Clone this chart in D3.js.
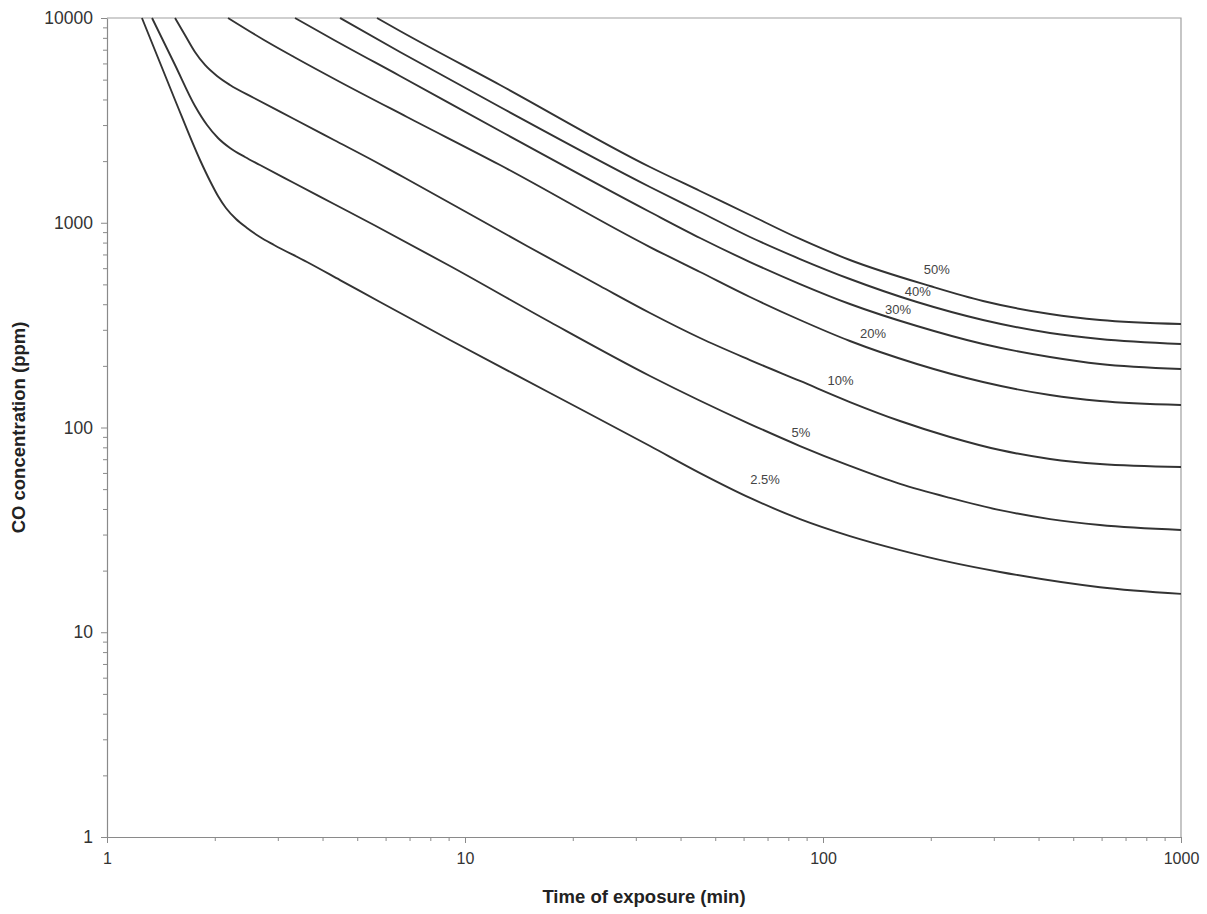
<!DOCTYPE html>
<html><head><meta charset="utf-8">
<script src="https://cdn.jsdelivr.net/npm/d3@7"></script>
<style>body{margin:0;background:#fff}</style>
</head><body>
<svg id="chart" width="1207" height="914"></svg>
<script>
// ---- data ----
const seriesNames = ["2.5%", "5%", "10%", "20%", "30%", "40%", "50%"];

const t2_5 = [1.252, 1.549, 1.819, 1.94, 2.042, 2.149, 2.293, 2.461, 2.675, 2.928, 3.62, 4.476, 5.789, 9.08, 17.28, 32.87, 45.35, 62.54, 86.27, 118.9, 164.1, 226.3, 312.2, 593.8, 1000];
const c2_5 = [10000, 3977, 2025, 1599, 1351, 1181, 1043, 943, 852, 779, 643, 525, 410, 267.5, 147.4, 81.2, 59.9, 45.3, 35.7, 29.5, 25.2, 22.0, 19.7, 16.6, 15.4];

const t5 = [1.336, 1.549, 1.761, 1.903, 2.042, 2.206, 2.429, 2.675, 3.33, 4.306, 5.569, 9.08, 17.28, 32.87, 62.54, 86.27, 118.9, 164.1, 226.3, 312.2, 430.6, 593.8, 1000];
const c5 = [10000, 5895, 3718, 3002, 2594, 2318, 2095, 1914, 1564, 1235, 975, 615, 327.5, 178.5, 104.0, 81.2, 64.9, 53.0, 45.3, 39.5, 35.7, 33.4, 31.6];

const t10 = [1.549, 1.651, 1.761, 1.878, 2.029, 2.206, 2.574, 3.33, 4.306, 5.569, 6.799, 14.9, 23.83, 32.87, 45.35, 62.54, 86.27, 118.9, 164.1, 226.3, 312.2, 430.6, 593.8, 1000];
const c10 = [10000, 8259, 6822, 5895, 5210, 4708, 4068, 3212, 2536, 2002, 1654, 770, 491.0, 362.4, 273.6, 213.6, 168.7, 133.2, 107.6, 89.9, 77.6, 70.2, 66.3, 64.1];

const t20 = [2.178, 2.745, 3.33, 4.476, 6.887, 12.53, 32.87, 45.35, 62.54, 86.27, 118.9, 183, 279.9, 430.6, 593.8, 1000];
const c20 = [10000, 7809, 6449, 4870, 3285, 1914, 761, 574.7, 433.9, 335.0, 264.5, 204.3, 166.8, 144.1, 134.7, 128.8];

const t30 = [3.351, 4.306, 6.583, 12.53, 32.87, 45.35, 62.54, 86.27, 118.9, 183, 279.9, 430.6, 593.8, 1000];
const c30 = [10000, 7809, 5210, 2806, 1128.6, 842.5, 643, 502.1, 401.1, 313.1, 255.7, 221.0, 204.3, 193.1];

const t40 = [4.476, 6.583, 12.53, 32.87, 45.35, 62.54, 86.27, 118.9, 183, 279.9, 430.6, 593.8, 1000];
const c40 = [10000, 6822, 3675, 1495, 1128.6, 852, 665.2, 531.3, 410, 335.0, 289.4, 270.5, 255.7];

const t50 = [5.678, 6.583, 12.53, 32.87, 45.35, 62.54, 86.27, 118.9, 199.0, 279.9, 430.6, 593.8, 1000];
const c50 = [10000, 8640, 4708, 1872, 1429, 1091, 833.1, 657.8, 491.0, 414.8, 358.4, 335.0, 320.2];

const seriesT = [t2_5, t5, t10, t20, t30, t40, t50];
const seriesC = [c2_5, c5, c10, c20, c30, c40, c50];

// label anchor positions (data coords)
const labelT = [68.9, 86.8, 112, 138, 162, 184, 208];
const labelC = [56, 95, 169, 289, 379, 464, 594];

const xTicks = [1, 10, 100, 1000];
const yTicks = [1, 10, 100, 1000, 10000];
const xTitle = "Time of exposure (min)";
const yTitle = "CO concentration (ppm)";

// ---- drawing ----
const W = 1207, H = 914;
const m = {left: 107, right: W - 1181, top: 18, bottom: H - 837};
const svg = d3.select("#chart");
const x = d3.scaleLog().domain([1, 1000]).range([m.left, W - m.right]);
const y = d3.scaleLog().domain([1, 10000]).range([H - m.bottom, m.top]);

const minorX = [], minorY = [];
for (let d = 1; d < 1000; d *= 10) for (let k = 2; k <= 9; k++) minorX.push(d * k);
for (let d = 1; d < 10000; d *= 10) for (let k = 2; k <= 9; k++) minorY.push(d * k);

const axisColor = "#8a8a8a";
const font = "'Liberation Sans', Arial, sans-serif";

// frame (top & right)
svg.append("path")
  .attr("d", `M${x(1)},${y(10000)}H${x(1000)}V${y(1)}`)
  .attr("fill", "none").attr("stroke", "#a0a0a0").attr("stroke-width", 1.2);

// minor ticks
svg.append("g").attr("transform", `translate(0,${y(1)})`)
  .call(d3.axisBottom(x).tickValues(minorX).tickSize(4).tickFormat(""))
  .call(g => g.select(".domain").remove())
  .call(g => g.selectAll("line").attr("stroke", axisColor));
svg.append("g").attr("transform", `translate(${x(1)},0)`)
  .call(d3.axisLeft(y).tickValues(minorY).tickSize(4).tickFormat(""))
  .call(g => g.select(".domain").remove())
  .call(g => g.selectAll("line").attr("stroke", axisColor));

// major axes
const xAxis = svg.append("g").attr("transform", `translate(0,${y(1)})`)
  .call(d3.axisBottom(x).tickValues(xTicks).tickSize(6).tickSizeOuter(0).tickPadding(10).tickFormat(d3.format("d")));
const yAxis = svg.append("g").attr("transform", `translate(${x(1)},0)`)
  .call(d3.axisLeft(y).tickValues(yTicks).tickSize(6).tickSizeOuter(0).tickPadding(8).tickFormat(d3.format("d")));
[xAxis, yAxis].forEach(a => {
  a.select(".domain").attr("stroke", axisColor).attr("stroke-width", 1.2);
  a.selectAll("line").attr("stroke", axisColor);
  a.selectAll("text").attr("fill", "#333").style("font-family", font).style("font-size", "16px");
});
yAxis.selectAll("text").style("font-size", "17.5px");

// curves
const line = d3.line().x(d => x(d[0])).y(d => y(d[1])).curve(d3.curveMonotoneX);
seriesT.forEach((ts, i) => {
  const pts = ts.map((t, j) => [t, seriesC[i][j]]);
  svg.append("path").datum(pts)
    .attr("d", line)
    .attr("fill", "none").attr("stroke", "#333").attr("stroke-width", 1.9);
});

// curve labels
svg.append("g").selectAll("text").data(seriesNames).join("text")
  .attr("x", (d, i) => x(labelT[i])).attr("y", (d, i) => y(labelC[i]))
  .attr("text-anchor", "middle").attr("dominant-baseline", "central")
  .style("font-family", font).style("font-size", "13px").attr("fill", "#444")
  .text(d => d);

// axis titles
svg.append("text").attr("x", (x(1) + x(1000)) / 2).attr("y", 903)
  .attr("text-anchor", "middle").style("font-family", font).style("font-size", "18.5px")
  .style("font-weight", "bold").attr("fill", "#222").text(xTitle);
svg.append("text").attr("transform", `translate(25,${(y(1) + y(10000)) / 2}) rotate(-90)`)
  .attr("text-anchor", "middle").style("font-family", font).style("font-size", "18.5px")
  .style("font-weight", "bold").attr("fill", "#222").text(yTitle);
</script>
</body></html>
